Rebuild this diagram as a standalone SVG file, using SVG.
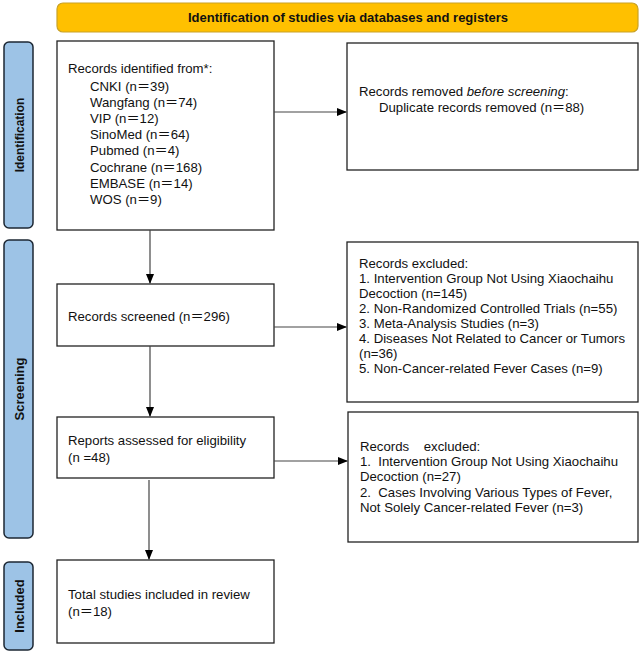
<svg xmlns="http://www.w3.org/2000/svg" width="642" height="652" viewBox="0 0 642 652">
<defs>
<marker id="arr" markerWidth="10" markerHeight="8" refX="9" refY="4" orient="auto" markerUnits="userSpaceOnUse">
<path d="M0,0 L10,4 L0,8 Z" fill="#000"/>
</marker>
<style>
.box{fill:#fff;stroke:#222;stroke-width:1.3}
.side{fill:#9dc3e6;stroke:#1c2733;stroke-width:1.5}
.t{font-family:"Liberation Sans","Noto Sans CJK SC",Arial,sans-serif;font-size:13.2px;fill:#111}
.st{font-family:"Liberation Sans",Arial,sans-serif;font-size:13px;font-weight:bold;fill:#111}
.ln{stroke:#444;stroke-width:1.2;fill:none;marker-end:url(#arr)}
</style>
</defs>
<g id="banner">
<rect x="57" y="3" width="581" height="29" rx="6" fill="#ffc000" stroke="#c9a227" stroke-width="1.2"/>
<text class="st" x="348" y="22" text-anchor="middle">Identification of studies via databases and registers</text>
</g>
<g id="side-identification">
<rect class="side" x="4" y="42" width="29" height="186" rx="5"/>
<text class="st" transform="translate(24,135) rotate(-90)" text-anchor="middle" style="font-size:12px">Identification</text>
</g>
<g id="side-screening">
<rect class="side" x="4" y="240" width="29" height="298" rx="5"/>
<text class="st" transform="translate(24,389) rotate(-90)" text-anchor="middle">Screening</text>
</g>
<g id="side-included">
<rect class="side" x="4" y="562" width="29" height="88" rx="5"/>
<text class="st" transform="translate(24,606) rotate(-90)" text-anchor="middle">Included</text>
</g>
<g id="identified">
<rect class="box" x="57" y="41" width="217" height="189"/>
<text class="t" x="68" y="73">Records identified from*:</text>
<text class="t" x="90" y="90.5">CNKI (n＝39)</text>
<text class="t" x="90" y="106.7">Wangfang (n＝74)</text>
<text class="t" x="90" y="122.9">VIP (n＝12)</text>
<text class="t" x="90" y="139.1">SinoMed (n＝64)</text>
<text class="t" x="90" y="155.3">Pubmed (n＝4)</text>
<text class="t" x="90" y="171.5">Cochrane (n＝168)</text>
<text class="t" x="90" y="187.7">EMBASE (n＝14)</text>
<text class="t" x="90" y="203.9">WOS (n＝9)</text>
</g>
<g id="removed">
<rect class="box" x="347" y="43" width="291" height="127"/>
<text class="t" x="359" y="96">Records removed <tspan font-style="italic">before screening</tspan>:</text>
<text class="t" x="379" y="112">Duplicate records removed (n＝88)</text>
</g>
<g id="screened">
<rect class="box" x="57" y="284" width="217" height="62"/>
<text class="t" x="68" y="321">Records screened (n＝296)</text>
</g>
<g id="excluded1">
<rect class="box" x="347" y="242" width="291" height="160"/>
<text class="t" x="359" y="268">Records excluded:</text>
<text class="t" x="359" y="283">1. Intervention Group Not Using Xiaochaihu</text>
<text class="t" x="359" y="298">Decoction (n=145)</text>
<text class="t" x="359" y="313">2. Non-Randomized Controlled Trials (n=55)</text>
<text class="t" x="359" y="328">3. Meta-Analysis Studies (n=3)</text>
<text class="t" x="359" y="343">4. Diseases Not Related to Cancer or Tumors</text>
<text class="t" x="359" y="358">(n=36)</text>
<text class="t" x="359" y="373">5. Non-Cancer-related Fever Cases (n=9)</text>
</g>
<g id="assessed">
<rect class="box" x="57" y="417" width="217" height="61"/>
<text class="t" x="68" y="445">Reports assessed for eligibility</text>
<text class="t" x="68" y="462">(n =48)</text>
</g>
<g id="excluded2">
<rect class="box" x="348" y="412" width="290" height="130"/>
<text class="t" x="360" y="451" xml:space="preserve">Records    excluded:</text>
<text class="t" x="360" y="466" xml:space="preserve">1.  Intervention Group Not Using Xiaochaihu</text>
<text class="t" x="360" y="481">Decoction (n=27)</text>
<text class="t" x="360" y="497" xml:space="preserve">2.  Cases Involving Various Types of Fever,</text>
<text class="t" x="360" y="512">Not Solely Cancer-related Fever (n=3)</text>
</g>
<g id="included">
<rect class="box" x="57" y="560" width="217" height="83"/>
<text class="t" x="68" y="599">Total studies included in review</text>
<text class="t" x="68" y="616">(n＝18)</text>
</g>
<g id="connectors">
<line class="ln" x1="274" y1="112" x2="346" y2="112"/>
<line class="ln" x1="150" y1="230" x2="150" y2="283"/>
<line class="ln" x1="274" y1="327" x2="346" y2="327"/>
<line class="ln" x1="150" y1="346" x2="150" y2="416"/>
<line class="ln" x1="274" y1="461" x2="347" y2="461"/>
<line class="ln" x1="149" y1="480" x2="149" y2="559"/>
</g>
</svg>
